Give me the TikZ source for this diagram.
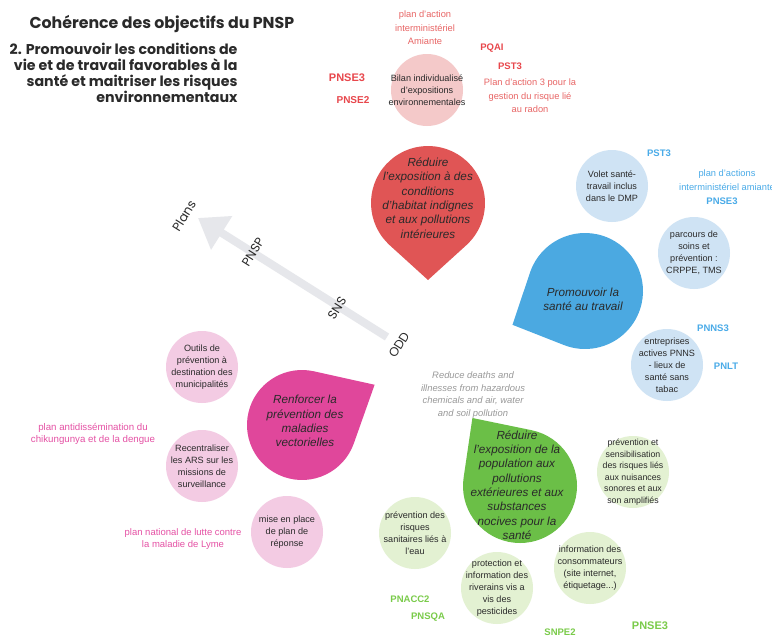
\documentclass[tikz,border=0pt]{standalone}
\usepackage{fontspec}
\setmainfont{Liberation Sans}
\newfontfamily\titlefont{Poppins}
\usetikzlibrary{arrows.meta,calc}
\definecolor{redD}{HTML}{E05555}
\definecolor{redL}{HTML}{F4C9C9}
\definecolor{redT}{HTML}{E8474C}
\definecolor{redT2}{HTML}{E86565}
\definecolor{blueD}{HTML}{4BA9E1}
\definecolor{blueL}{HTML}{CFE3F4}
\definecolor{blueT}{HTML}{4AABE8}
\definecolor{pinkD}{HTML}{E0479B}
\definecolor{pinkL}{HTML}{F3CBE3}
\definecolor{pinkT}{HTML}{E552A5}
\definecolor{greenD}{HTML}{6BBF47}
\definecolor{greenL}{HTML}{E3F1D2}
\definecolor{greenT}{HTML}{7ACB4A}
\definecolor{arrowC}{HTML}{E6E7EB}
\definecolor{txt}{HTML}{2A2A2A}
\newcommand\myfs[2]{\fontsize{#1}{#2}\selectfont}
\newcommand\dropshape[6]{%
  \pgfmathsetmacro\dropb{acos(#3/#5)}%
  \fill[#6] (#1,#2) ++(#4:#5) -- ($(#1,#2)+(#4+\dropb:#3)$)
    arc[start angle=#4+\dropb, end angle=#4-\dropb+360, radius=#3] -- cycle;}
\begin{document}
\begin{tikzpicture}[x=1pt,y=-1pt,
  bubble/.style={circle, fill=#1, minimum size=72pt, inner sep=0pt},
  btext/.style={font=\myfs{9.1}{12}, align=center, text=txt},
  droptext/.style={font=\myfs{11.7}{14.3}\itshape, align=center, text=txt},
  lab/.style={font=\myfs{9.3}{13.5}, align=center},
  blab/.style={font=\myfs{9.5}{12}\bfseries},
  axlab/.style={font=\titlefont\myfs{12.5}{13}, text=txt, rotate=58}]
\useasboundingbox[fill=white] (0,0) rectangle (772,637);

% title
\node[font=\titlefont\bfseries\myfs{15.8}{18}, text=txt, anchor=west] (title) at (26,24) {Cohérence des objectifs du PNSP};
\node[font=\titlefont\bfseries\myfs{14.2}{16}, text=txt, align=right, anchor=north east] (sub) at (241,40) {2. Promouvoir les conditions de\\vie et de travail favorables à la\\santé et maitriser les risques\\environnementaux};

% arrow
\coordinate (atail) at (387,337);
\coordinate (ahead) at (198,218);
\draw[arrowC, line width=8pt, -{Triangle[width=38pt,length=28pt]}] (atail) -- (ahead);
\node[axlab] (plans) at (184,216) {Plans};
\node[axlab] (pnsp) at (253,252) {PNSP};
\node[axlab] (sns) at (337,308) {SNS};
\node[axlab] (odd) at (399,345) {ODD};

% drops
\dropshape{428}{203}{57}{90}{77}{redD}
\dropshape{585}{291}{58}{155}{80}{blueD}
\dropshape{302}{425}{55}{-29}{83}{pinkD}
\dropshape{520}{486}{57}{235}{83}{greenD}
\node[droptext] (dred) at (428,198) {Réduire\\l'exposition à des\\conditions\\d'habitat indignes\\et aux pollutions\\intérieures};
\node[droptext] (dblue) at (583,299) {Promouvoir la\\santé au travail};
\node[droptext] (dpink) at (305,421) {Renforcer la\\prévention des\\maladies\\vectorielles};
\node[droptext] (dgreen) at (517,485) {Réduire\\l'exposition de la\\population aux\\pollutions\\extérieures et aux\\substances\\nocives pour la\\santé};

% red cluster
\node[bubble=redL] (r1) at (427,90) {};
\node[btext] at (r1) {Bilan individualisé\\d'expositions\\environnementales};
\node[lab, text=redT2] (rl1) at (425,28) {plan d'action\\interministériel\\Amiante};
\node[blab, text=redT] (rl2) at (492,48) {PQAI};
\node[blab, text=redT] (rl3) at (510,66) {PST3};
\node[lab, text=redT2] (rl4) at (530,96) {Plan d'action 3 pour la\\gestion du risque lié\\au radon};
\node[blab, text=redT, font=\myfs{11}{12}\bfseries] (rl5) at (347,78) {PNSE3};
\node[blab, text=redT, font=\myfs{10}{12}\bfseries] (rl6) at (353,100) {PNSE2};

% blue cluster
\node[bubble=blueL] (b1) at (612,186) {};
\node[btext] at (b1) {Volet santé-\\travail inclus\\dans le DMP};
\node[bubble=blueL] (b2) at (694,253) {};
\node[btext] at (b2) {parcours de\\soins et\\prévention :\\CRPPE, TMS};
\node[bubble=blueL] (b3) at (667,365) {};
\node[btext] at (b3) {entreprises\\actives PNNS\\- lieux de\\santé sans\\tabac};
\node[blab, text=blueT] (bl1) at (659,153) {PST3};
\node[lab, text=blueT] (bl2) at (727,180) {plan d'actions\\interministériel amiante};
\node[blab, text=blueT] (bl3) at (722,201) {PNSE3};
\node[blab, text=blueT] (bl4) at (713,328) {PNNS3};
\node[blab, text=blueT] (bl5) at (726,366) {PNLT};

% pink cluster
\node[bubble=pinkL] (p1) at (202,367) {};
\node[btext] at (p1) {Outils de\\prévention à\\destination des\\municipalités};
\node[bubble=pinkL] (p2) at (202,466) {};
\node[btext] at (p2) {Recentraliser\\les ARS sur les\\missions de\\surveillance};
\node[bubble=pinkL] (p3) at (287,532) {};
\node[btext] at (p3) {mise en place\\de plan de\\réponse};
\node[lab, text=pinkT, font=\myfs{9.7}{12.5}] (pl1) at (93,434) {plan antidissémination du\\chikungunya et de la dengue};
\node[lab, text=pinkT, font=\myfs{9.5}{12.5}] (pl2) at (183,539) {plan national de lutte contre\\la maladie de Lyme};

% green cluster
\node[lab, text=black!40, font=\myfs{9.4}{12.7}\itshape] (odd1) at (473,395) {Reduce deaths and\\illnesses from hazardous\\chemicals and air, water\\and soil pollution};
\node[bubble=greenL] (g1) at (633,472) {};
\node[btext, font=\myfs{8.8}{11.5}] at (g1) {prévention et\\sensibilisation\\des risques liés\\aux nuisances\\sonores et aux\\son amplifiés};
\node[bubble=greenL] (g2) at (415,533) {};
\node[btext] at (g2) {prévention des\\risques\\sanitaires liés à\\l'eau};
\node[bubble=greenL] (g3) at (497,588) {};
\node[btext] at (g3) {protection et\\information des\\riverains vis a\\vis des\\pesticides};
\node[bubble=greenL] (g4) at (590,568) {};
\node[btext] at (g4) {information des\\consommateurs\\(site internet,\\étiquetage...)};
\node[blab, text=greenT] (gl1) at (410,599) {PNACC2};
\node[blab, text=greenT] (gl2) at (428,617) {PNSQA};
\node[blab, text=greenT] (gl3) at (560,632) {SNPE2};
\node[blab, text=greenT, font=\myfs{11}{12}\bfseries] (gl4) at (650,626) {PNSE3};
\end{tikzpicture}
\end{document}
